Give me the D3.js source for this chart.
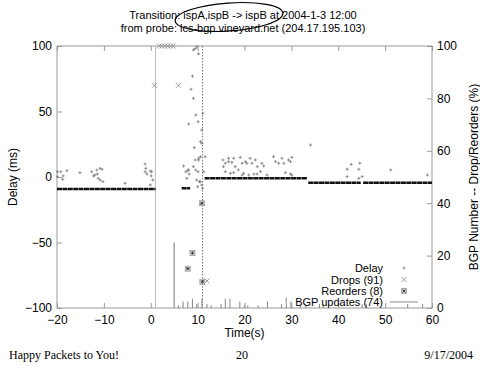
<!DOCTYPE html>
<html>
<head>
<meta charset="utf-8">
<script src="https://cdn.jsdelivr.net/npm/d3@7"></script>
<style>
  body { margin: 0; background: #fff; }
  svg { display: block; }
  .lbl { font-family: "Liberation Sans", Arial, sans-serif; font-size: 12px; fill: #000; }
  .foot { font-family: "Liberation Serif", "Times New Roman", serif; font-size: 12px; fill: #000; }
</style>
</head>
<body>
<svg id="viewer"></svg>
<script>
// baseline delay runs: [start (s), end (s), delay (ms)]
let baseline = [
  [-20, 1.0, -9.2],
  [6.6, 8.4, -8.6],
  [11.5, 33.4, -1.0],
  [33.6, 44.8, -4.4],
  [45.3, 60, -4.4]
];

// scattered delay samples off the baseline
let delayT = [-19.9, -19.2, -17.9, -18.7, -19.9, -18.8, -15.1,
  -12.6, -12.2, -11.5, -10.8, -10.4, -11.2, -10.8, -10.2, -11.9, -11.4, -5.5,
  -1.2, -1.05, -1.2, -0.8, -0.1, 0.2, 0.1, 0.45, -0.1,
  7.0, 8.1, 7.5, 8.2, 7.7, 8.1, 9.6, 10.1, 9.3, 10.2, 9.5, 10.6, 10.9, 11.1, 10.9,
  9.6, 10.1, 9.8, 10.4, 10.9, 11.3, 9.85, 9.5, 10.2, 9.1, 8.9, 8.6, 9.1, 10.6,
  7.9, 9.1, 11.6, 10.2, 10.0, 10.55, 11.05,
  15.4, 15.9, 16.6, 16.6, 17.3, 17.7, 18.0, 19.1, 19.5, 20.2, 20.5, 21.2, 21.6, 22.3,
  22.7, 23.7, 24.1, 26.2, 26.6, 28.0, 28.4, 29.4, 29.8, 30.1, 15.5, 15.9, 17.7, 18.7,
  19.5, 19.8, 20.9, 22.7, 24.8, 28.7, 29.8, 17.0, 22.0, 23.4, 27.3, 30.1,
  34.1, 41.9, 42.75, 44.6, 44.4, 45.1, 41.9, 44.4, 51.2, 59.0];
let delayMs = [4, 4, 4.8, 0.8, 0.2, -1.8, 3.3,
  4, 0.8, 5.3, 6.6, 5.9, -1, -2.3, -3.6, 1.5, 2.3, -4.8,
  9.9, 6.6, 4, 2.3, 4.6, 4, 0.8, -2.3, -6.1,
  8.4, 5.3, 4, 2.3, -1, 40.5, 47.3, 42.2, 22.4, 14.3, 13, 15.5, 25.7, 48.6, 35.9,
  5.3, 4, -2.3, -3.6, -6.1, 4, 99.5, 98, 94, 97, 77, 67, 60, 27,
  5.3, 7.9, 15.5, 13, -7.4, -3.6, -8.6,
  13.0, 10.5, 14.3, 11.7, 11.2, 14.3, 7.9, 15.0, 10.5, 11.7, 10.5, 14.3, 10.5, 13.0,
  7.9, 10.5, 8.4, 15.5, 11.7, 14.3, 10.5, 13.0, 11.7, 15.0, 7.9, 4.1, 3.3, 5.4,
  1.5, 2.8, 1.5, 2.3, 1.5, 3.3, 2.3, 2.8, 2.3, 4.1, 10.5, 1.5,
  24.4, 5.9, 9.7, 10.5, 5.9, 0.3, 0.3, -1, 5.4, 1.5];

// drops and reorders (% on right axis)
let dropT = [0.8, 1.8, 2.4, 3.0, 3.6, 4.2, 4.8, 5.9, 12.0];
let dropPct = [85, 100, 100, 100, 100, 100, 100, 85, 10.3];
let reorderT = [7.9, 8.9, 10.9, 11.0];
let reorderPct = [15, 21, 40, 10];

// bgp updates per second (right axis)
let bgpT = [5.0, 5.9, 6.9, 7.9, 8.9, 9.8, 10.9, 12.0, 12.9, 15.0, 15.9, 16.9, 19.0, 20.0,
  20.7, 22.9, 24.9, 27.9, 28.9, 29.9, 31.9, 33.1, 36.0, 36.8, 45.1, 46.0, 54.8, 58.0];
let bgpCount = [25, 1, 2.5, 2.5, 3.5, 1.5, 3.5, 1.5, 1, 1.5, 3.5, 3.5, 2.5, 1,
  1, 1, 2.5, 1.5, 4, 2.5, 1.5, 1.5, 1.5, 1.5, 1.5, 1.5, 1.5, 1.5];

// transition start / end markers
let markStart = 1.0;
let markEnd = 11.05;

let xTicks = [-20, -10, 0, 10, 20, 30, 40, 50, 60];
let yTicks = [-100, -50, 0, 50, 100];
let y2Ticks = [0, 20, 40, 60, 80, 100];

let legendNames = ['Delay', 'Drops (91)', 'Reorders (8)', 'BGP updates (74)'];

let W = 480, H = 370;
let plot = {left: 57, right: 432, top: 46, bottom: 308};

let svg = d3.select('#viewer').attr('width', W).attr('height', H);

let x = d3.scaleLinear().domain([-20, 60]).range([plot.left, plot.right]);
let y = d3.scaleLinear().domain([-100, 100]).range([plot.bottom, plot.top]);
let y2 = d3.scaleLinear().domain([0, 100]).range([plot.bottom, plot.top]);

let grey = '#999';

// title
svg.append('text').attr('class', 'lbl').attr('x', 243).attr('y', 19)
  .attr('text-anchor', 'middle').style('font-size', '11px')
  .text('Transition: ispA,ispB -> ispB at 2004-1-3 12:00');
svg.append('text').attr('class', 'lbl').attr('x', 243).attr('y', 32)
  .attr('text-anchor', 'middle').style('font-size', '11px')
  .text('from probe: lcs-bgp.vineyard.net (204.17.195.103)');

// somebody circled the transition by hand
svg.append('ellipse')
  .attr('cx', 229).attr('cy', 17).attr('rx', 54).attr('ry', 14)
  .attr('transform', 'rotate(-4,229,17)')
  .attr('fill', 'none').attr('stroke', '#000').attr('stroke-width', 1.2);

// axes, ticks pointing inward
function styleAxis(g) {
  g.select('.domain').remove();
  g.selectAll('.tick line').attr('stroke', grey);
  g.selectAll('.tick text').attr('class', 'lbl').attr('fill', '#000')
    .style('font-size', '12px').style('font-family', '"Liberation Sans", Arial, sans-serif');
}

svg.append('g')
  .attr('transform', 'translate(0,' + plot.bottom + ')')
  .call(d3.axisBottom(x).tickValues(xTicks).tickSizeInner(-5).tickSizeOuter(0).tickPadding(7))
  .call(styleAxis);
svg.append('g')
  .attr('transform', 'translate(0,' + plot.top + ')')
  .call(d3.axisTop(x).tickValues(xTicks).tickSizeInner(-5).tickSizeOuter(0).tickFormat(''))
  .call(styleAxis);
svg.append('g')
  .attr('transform', 'translate(' + plot.left + ',0)')
  .call(d3.axisLeft(y).tickValues(yTicks).tickSizeInner(-5).tickSizeOuter(0).tickPadding(5))
  .call(styleAxis);
svg.append('g')
  .attr('transform', 'translate(' + plot.right + ',0)')
  .call(d3.axisRight(y2).tickValues(y2Ticks).tickSizeInner(-5).tickSizeOuter(0).tickPadding(5))
  .call(styleAxis);

// frame
svg.append('rect')
  .attr('x', plot.left).attr('y', plot.top)
  .attr('width', plot.right - plot.left).attr('height', plot.bottom - plot.top)
  .attr('fill', 'none').attr('stroke', grey).attr('stroke-width', 1);

// axis titles
svg.append('text').attr('class', 'lbl')
  .attr('transform', 'translate(17,' + (plot.top + plot.bottom) / 2 + ') rotate(-90)')
  .attr('text-anchor', 'middle').text('Delay (ms)');
svg.append('text').attr('class', 'lbl')
  .attr('transform', 'translate(478,' + (plot.top + plot.bottom) / 2 + ') rotate(-90)')
  .attr('text-anchor', 'middle').text('BGP Number -- Drop/Reorders (%)');
svg.append('text').attr('class', 'lbl')
  .attr('x', x(20)).attr('y', 337).attr('text-anchor', 'middle').text('Time(s)');

// transition markers
svg.append('line')
  .attr('x1', x(markStart)).attr('x2', x(markStart))
  .attr('y1', plot.top).attr('y2', plot.bottom)
  .attr('stroke', '#bbb').attr('stroke-width', 1);
svg.append('line')
  .attr('x1', x(markEnd)).attr('x2', x(markEnd))
  .attr('y1', plot.top).attr('y2', plot.bottom)
  .attr('stroke', '#777').attr('stroke-width', 1).attr('stroke-dasharray', '1.5,1.5');

// bgp impulses
bgpT.forEach(function (t, i) {
  svg.append('line')
    .attr('x1', x(t)).attr('x2', x(t))
    .attr('y1', y2(0)).attr('y2', y2(bgpCount[i]))
    .attr('stroke', i == 0 ? '#aaa' : '#888')
    .attr('stroke-width', i == 0 ? 1.6 : 1);
});

// baseline delay (packets too dense to tell apart)
baseline.forEach(function (b) {
  svg.append('line')
    .attr('x1', x(b[0])).attr('x2', x(b[1]))
    .attr('y1', y(b[2])).attr('y2', y(b[2]))
    .attr('stroke', '#111').attr('stroke-width', 2.4)
    .attr('stroke-dasharray', '5,0.4');
});

// markers
function plus(cx, cy, s, col) {
  svg.append('path')
    .attr('d', 'M' + (cx - s) + ',' + cy + 'H' + (cx + s) + 'M' + cx + ',' + (cy - s) + 'V' + (cy + s))
    .attr('stroke', col).attr('stroke-width', 0.8).attr('fill', 'none');
}
function cross(cx, cy, s, col) {
  svg.append('path')
    .attr('d', 'M' + (cx - s) + ',' + (cy - s) + 'L' + (cx + s) + ',' + (cy + s) +
      'M' + (cx - s) + ',' + (cy + s) + 'L' + (cx + s) + ',' + (cy - s))
    .attr('stroke', col).attr('stroke-width', 0.8).attr('fill', 'none');
}
function star(cx, cy, s) {
  svg.append('rect')
    .attr('x', cx - s).attr('y', cy - s).attr('width', 2 * s).attr('height', 2 * s)
    .attr('fill', 'none').attr('stroke', '#999').attr('stroke-width', 0.8);
  cross(cx, cy, s * 0.7, '#333');
  plus(cx, cy, s * 0.7, '#333');
}

delayT.forEach(function (t, i) {
  plus(x(t), y(delayMs[i]), 1.5, '#777');
});
dropT.forEach(function (t, i) {
  cross(x(t), y2(dropPct[i]), 2.5, '#888');
});
reorderT.forEach(function (t, i) {
  star(x(reorderT[i]), y2(reorderPct[i]), 2.5);
});

// legend
let legY = [268, 279.5, 291, 302];
legendNames.forEach(function (name, i) {
  svg.append('text').attr('class', 'lbl')
    .attr('x', 383).attr('y', legY[i] + 4)
    .attr('text-anchor', 'end').style('font-size', '11px').text(name);
});
plus(404, legY[0], 1.5, '#777');
cross(404, legY[1], 2.5, '#888');
star(404, legY[2], 2.5);
svg.append('line')
  .attr('x1', 390).attr('x2', 418).attr('y1', legY[3]).attr('y2', legY[3])
  .attr('stroke', '#888').attr('stroke-width', 1);

// slide footer
svg.append('text').attr('class', 'foot').attr('x', 9).attr('y', 359).text('Happy Packets to You!');
svg.append('text').attr('class', 'foot').attr('x', 242).attr('y', 359).attr('text-anchor', 'middle').text('20');
svg.append('text').attr('class', 'foot').attr('x', 473).attr('y', 359).attr('text-anchor', 'end').text('9/17/2004');
</script>
</body>
</html>
